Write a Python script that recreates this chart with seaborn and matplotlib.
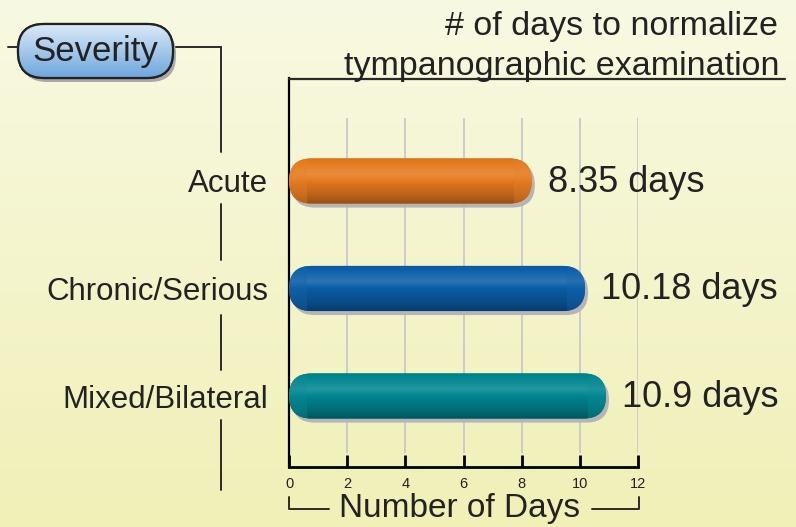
import numpy as np
import matplotlib
matplotlib.use("Agg")
import matplotlib.pyplot as plt
import seaborn as sns
import pandas as pd
from matplotlib.patches import FancyBboxPatch
from matplotlib.colors import to_rgb
import matplotlib.transforms as mtransforms

# ---- data ----
categories = ["Acute", "Chronic/Serious", "Mixed/Bilateral"]
days = [8.35, 10.18, 10.9]
value_labels = ["8.35 days", "10.18 days", "10.9 days"]
bar_colors = ["#e57a1e", "#0b5ea8", "#008690"]
x_ticks = [0, 2, 4, 6, 8, 10, 12]
title_lines = ["# of days to normalize", "tympanographic examination"]
x_label = "Number of Days"
group_label = "Severity"

sns.set_theme(style="white")
plt.rcParams["font.family"] = ["Liberation Sans", "DejaVu Sans"]
TXT = "#222222"

W, H = 796, 527
fig = plt.figure(figsize=(W / 100, H / 100), dpi=100)

# background gradient
bg = fig.add_axes([0, 0, 1, 1], zorder=-10)
top = np.array(to_rgb("#f8f9e2"))
bot = np.array(to_rgb("#f0f0b7"))
t = np.linspace(0, 1, 256)[:, None, None]
bg.imshow(top * (1 - t) + bot * t, aspect="auto", extent=[0, 1, 0, 1], origin="upper")
bg.set_axis_off()

# main axes (pixel placement)
L, R, T, B = 289, 638, 78, 467
ax = fig.add_axes([L / W, 1 - B / H, (R - L) / W, (B - T) / H], zorder=1)
ax.set_facecolor("none")

df = pd.DataFrame({"cat": categories, "days": days})
sns.barplot(data=df, x="days", y="cat", orient="h", ax=ax, width=0.42,
            palette=bar_colors, hue="cat", legend=False)

sp = 107.5
ylim_top = -(181 - T) / sp
ylim_bot = 2 + (B - 396) / sp
ax.set_xlim(0, 12)
ax.set_ylim(ylim_bot, ylim_top)

# gridlines
g_top = ylim_top + (118 - T) / sp
g_bot = ylim_bot - (B - 453) / sp
ax.vlines(x_ticks[1:], g_bot, g_top, colors="#c9c9c9", lw=1.3, zorder=0)

for s in ["top", "right"]:
    ax.spines[s].set_visible(False)
ax.spines["left"].set_color("black")
ax.spines["left"].set_linewidth(1.6)
ax.spines["bottom"].set_color("black")
ax.spines["bottom"].set_linewidth(2.0)
ax.set_xticks(x_ticks)
ax.set_xticklabels([str(v) for v in x_ticks], fontsize=10.5, color=TXT)
ax.tick_params(axis="x", direction="in", length=9, width=2, color="black", pad=7, bottom=True)
ax.tick_params(axis="y", length=0, pad=15, labelsize=22.5, labelcolor=TXT)
ax.set_xlabel("")
ax.set_ylabel("")

# pixel scales for pills
p0 = ax.transData.transform((0, 0))
p1 = ax.transData.transform((1, 1))
px_x = abs(p1[0] - p0[0])
px_y = abs(p1[1] - p0[1])
aspect = px_x / px_y

shadow_tr = ax.transData + mtransforms.ScaledTranslation(3 / 100, -4 / 100, fig.dpi_scale_trans)

def shade(c, f):
    c = np.array(to_rgb(c))
    if f >= 0:
        return c + (1 - c) * f
    return c * (1 + f)

for patch, col, lab in zip(ax.patches, bar_colors, value_labels):
    x0, y0 = patch.get_x(), patch.get_y()
    w, h = patch.get_width(), patch.get_height()
    patch.set_visible(False)
    r = (h / 2) / aspect  # radius in x data units
    style = f"round,pad=0,rounding_size={r * 0.999}"
    sh = FancyBboxPatch((x0, y0), w, h, boxstyle=style, mutation_aspect=aspect,
                        transform=shadow_tr, fc="#b5b5b8", ec="none", zorder=2)
    ax.add_patch(sh)
    pill = FancyBboxPatch((x0, y0), w, h, boxstyle=style, mutation_aspect=aspect,
                          fc=col, ec="none", zorder=3)
    ax.add_patch(pill)
    # vertical gradient (top -> bottom)
    stops = np.array([0.0, 0.12, 0.35, 0.55, 0.8, 1.0])
    facs = [-0.05, 0.02, 0.14, -0.05, -0.18, -0.35]
    yy = np.linspace(0, 1, 64)
    grad = np.array([np.interp(v, stops, facs) for v in yy])
    img = np.array([shade(col, f) for f in grad])[:, None, :]
    im = ax.imshow(img, extent=[x0, x0 + w, y0 + h, y0], aspect="auto",
                   origin="upper", zorder=4, interpolation="bilinear")
    im.set_clip_path(pill)
    # subtly lighter end caps
    for cx0, cx1 in [(x0, x0 + r * 0.8), (x0 + w - r * 0.8, x0 + w)]:
        cap = ax.fill_between([cx0, cx1], y0, y0 + h, color=shade(col, 0.05),
                              alpha=0.35, lw=0, zorder=5)
        cap.set_clip_path(pill)
    ax.set_xlim(0, 12)
    ax.set_ylim(ylim_bot, ylim_top)
    ax.annotate(lab, xy=(x0 + w, y0 + h / 2), xytext=(11.5, -1), textcoords="offset points",
                ha="left", va="center", fontsize=26, color=TXT, zorder=6)

# overlay in pixel coords
ov = fig.add_axes([0, 0, 1, 1], zorder=5)
ov.set_facecolor("none")
ov.set_xlim(0, W)
ov.set_ylim(H, 0)
ov.set_axis_off()

lc = "#2a2a2a"
# title
ov.text(778, 26, title_lines[0], ha="right", va="center", fontsize=24.5, color=TXT)
ov.text(779, 66, title_lines[1], ha="right", va="center", fontsize=24.5, color=TXT)
ov.plot([289, 785], [79, 79], color=lc, lw=1.6)

# severity box
ov.plot([8, 18], [47, 47], color=lc, lw=1.4)
ov.plot([173, 221], [47, 47], color=lc, lw=1.4)
segs = [(47, 152), (204, 260), (315, 370), (420, 490)]
for a, b in segs:
    ov.plot([221, 221], [a, b], color=lc, lw=1.4)
shadow_box = FancyBboxPatch((21, 28), 155, 54, boxstyle="round,pad=0,rounding_size=26",
                            fc="#a9a9ab", ec="none", zorder=2)
ov.add_patch(shadow_box)
box = FancyBboxPatch((18, 24), 155, 54, boxstyle="round,pad=0,rounding_size=26",
                     fc="#9cc3e8", ec="#222222", lw=1.6, zorder=3)
ov.add_patch(box)
bt = np.array(to_rgb("#dbeaf8"))
bb = np.array(to_rgb("#6ea6dc"))
tt = np.linspace(0, 1, 64)[:, None, None]
bim = ov.imshow(bt * (1 - tt) + bb * tt, extent=[18, 173, 78, 24], aspect="auto",
                origin="upper", zorder=3.5)
bim.set_clip_path(box)
box2 = FancyBboxPatch((18, 24), 155, 54, boxstyle="round,pad=0,rounding_size=26",
                      fc="none", ec="#222222", lw=1.6, zorder=4)
ov.add_patch(box2)
ov.text(95, 52, group_label, ha="center", va="center", fontsize=25, color=TXT, zorder=5)
ov.set_xlim(0, W)
ov.set_ylim(H, 0)

# x label bracket
ov.text(460, 508, x_label, ha="center", va="center", fontsize=24, color=TXT)
ov.plot([289, 289, 329], [497, 509, 509], color=lc, lw=1.4)
ov.plot([592, 639, 639], [509, 509, 497], color=lc, lw=1.4)

fig.savefig("out.png", dpi=100)
